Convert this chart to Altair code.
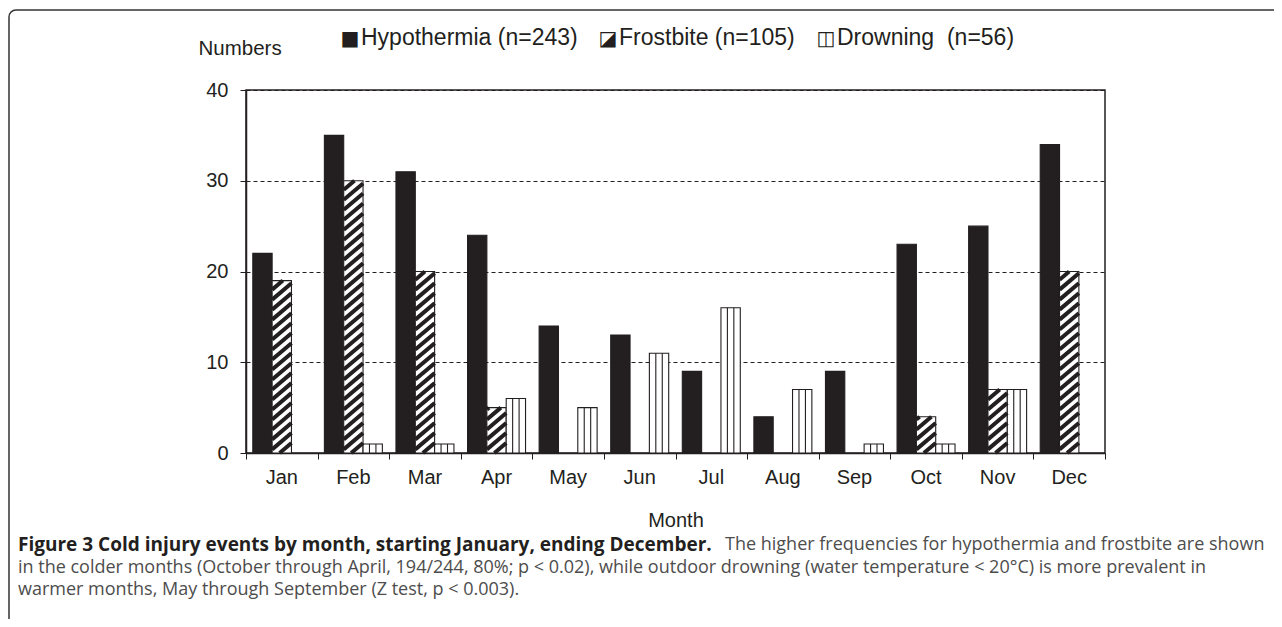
import altair as alt
import pandas as pd

# ---------------- data ----------------
months = ["Jan", "Feb", "Mar", "Apr", "May", "Jun", "Jul", "Aug", "Sep", "Oct", "Nov", "Dec"]
hypothermia = [22, 35, 31, 24, 14, 13, 9, 4, 9, 23, 25, 34]
frostbite = [19, 30, 20, 5, 0, 0, 0, 0, 0, 4, 7, 20]
drowning = [0, 1, 1, 6, 5, 11, 16, 7, 1, 1, 7, 0]
series_names = ["Hypothermia", "Frostbite", "Drowning"]
legend_labels = ["Hypothermia (n=243)", "Frostbite (n=105)", "Drowning\u00a0 (n=56)"]
legend_glyphs = ["\u25a0", "\u25ea", "\u25eb"]
y_ticks = [0, 10, 20, 30, 40]
x_title = "Month"
y_title = "Numbers"
caption_bold = "Figure 3 Cold injury events by month, starting January, ending December."
caption_lines = [
    "The higher frequencies for hypothermia and frostbite are shown",
    "in the colder months (October through April, 194/244, 80%; p < 0.02), while outdoor drowning (water temperature < 20\u00b0C) is more prevalent in",
    "warmer months, May through September (Z test, p < 0.003).",
]

rows = []
for i, m in enumerate(months):
    for s, vals in enumerate([hypothermia, frostbite, drowning]):
        rows.append({"month": m, "mi": i, "series": series_names[s], "si": s, "value": vals[i]})
df = pd.DataFrame(rows)
mdf = pd.DataFrame({"month": months, "mi": list(range(len(months)))})

# ---------------- style / layout ----------------
W, H = 859, 363
GS, BW = 0.095, 0.27           # group start and bar width in month units
HATCH_RISE, HATCH_STEP = 1.8, 1.1
INK = "#231f20"
AXFONT = "Liberation Sans"
CAPFONT = "Open Sans"
AXSIZE = 20

xs = alt.Scale(domain=[0, 12], nice=False, zero=False)
ys = alt.Scale(domain=[0, 40], nice=False, zero=True)

x_axis = alt.Axis(values=list(range(13)), labels=False, grid=False, tickSize=6,
                  tickColor=INK, domainColor=INK, domainWidth=1.5, title=x_title,
                  titleFont=AXFONT, titleFontSize=AXSIZE, titleFontWeight="normal",
                  titleColor=INK, titleY=67, titleBaseline="middle")
y_axis = alt.Axis(values=y_ticks, grid=True, gridColor=INK, gridDash=[4, 3], gridWidth=1,
                  tickSize=6, tickColor=INK, domainColor=INK, domainWidth=1.5,
                  labelFont=AXFONT, labelFontSize=AXSIZE, labelColor=INK, labelPadding=12,
                  title=y_title, titleAngle=0, titleAlign="left", titleBaseline="middle",
                  titleX=-48, titleY=-42, titleFont=AXFONT, titleFontSize=20.5,
                  titleFontWeight="normal", titleColor=INK)

base = alt.Chart(df).transform_filter("datum.value > 0").transform_calculate(
    x0=f"datum.mi + {GS} + datum.si * {BW}",
    x1=f"datum.mi + {GS} + (datum.si + 1) * {BW}",
    zero="0",
)

bars = base.mark_rect(stroke=INK, strokeWidth=1.1).encode(
    x=alt.X("x0:Q", scale=xs, axis=x_axis),
    x2="x1:Q",
    y=alt.Y("value:Q", scale=ys, axis=y_axis),
    y2="zero:Q",
    fill=alt.Fill("series:N", scale=alt.Scale(domain=series_names, range=[INK, "white", "white"]), legend=None),
)

hatch = base.transform_filter("datum.si == 1").transform_calculate(
    ks=f"sequence(-{HATCH_RISE}, datum.value, {HATCH_STEP})"
).transform_flatten(["ks"], as_=["k"]).transform_calculate(
    ya=f"max(datum.k, 0)",
    yb=f"min(datum.k + {HATCH_RISE}, datum.value)",
).transform_calculate(
    xa=f"datum.x0 + (datum.ya - datum.k) / {HATCH_RISE} * {BW}",
    xb=f"datum.x0 + (datum.yb - datum.k) / {HATCH_RISE} * {BW}",
).transform_filter("datum.yb > datum.ya + 0.05").mark_rule(
    strokeWidth=4, color=INK
).encode(x="xa:Q", x2="xb:Q", y="ya:Q", y2="yb:Q")

vlines = base.transform_filter("datum.si == 2").transform_calculate(
    la=f"datum.x0 + {BW} / 3", lb=f"datum.x0 + 2 * {BW} / 3"
).transform_fold(["la", "lb"], as_=["which", "xl"]).mark_rule(
    strokeWidth=1.1, color=INK
).encode(x="xl:Q", y="value:Q", y2="zero:Q")

month_labels = alt.Chart(mdf).transform_calculate(xc="datum.mi + 0.5").mark_text(
    font=AXFONT, fontSize=AXSIZE, color=INK, baseline="middle", align="center"
).encode(x="xc:Q", y=alt.value(H + 25), text="month:N")


def label(text, x, y, size, font=AXFONT, weight="normal", color=INK, align="left"):
    return alt.Chart(pd.DataFrame({"t": [text]})).mark_text(
        font=font, fontSize=size, fontWeight=weight, color=color, align=align, baseline="middle"
    ).encode(text="t:N", x=alt.value(x), y=alt.value(y))


layers = [bars, hatch, vlines, month_labels]

# legend (positions relative to the plot's top-left corner)
leg_y = -52
for glyph, gx in zip(legend_glyphs, [104, 362, 580]):
    layers.append(label(glyph, gx, leg_y + 1, 20, font="DejaVu Sans", align="center"))
for txt, tx in zip(legend_labels, [115, 373, 591]):
    layers.append(label(txt, tx, leg_y, 23))

# caption
cap_x = -228
cap_size = 18
layers.append(label(caption_bold, cap_x, 455, 19, font=CAPFONT, weight="bold", color="#231f20"))
layers.append(label(caption_lines[0], 479, 455, cap_size, font=CAPFONT, color="#4d4d4d"))
layers.append(label(caption_lines[1], cap_x, 478, cap_size, font=CAPFONT, color="#4d4d4d"))
layers.append(label(caption_lines[2], cap_x, 500, cap_size, font=CAPFONT, color="#4d4d4d"))

# figure frame (top and left edges)
frame = alt.Chart(pd.DataFrame({"a": [0]})).mark_rect(
    fillOpacity=0, stroke="#333333", strokeWidth=1.5, cornerRadius=7
).encode(x=alt.value(-237), x2=alt.value(3000), y=alt.value(-80), y2=alt.value(3000))
layers.append(frame)

chart = alt.layer(*layers).properties(
    width=W, height=H,
    padding={"left": 238, "top": 82, "right": 1266 - 238 - W, "bottom": 611 - 82 - H},
    autosize=alt.AutoSizeParams(type="none"),
    background="white",
).configure_view(stroke=INK, strokeWidth=1.5)

chart.save("out.html", embed_options={"renderer": "svg", "actions": False})
